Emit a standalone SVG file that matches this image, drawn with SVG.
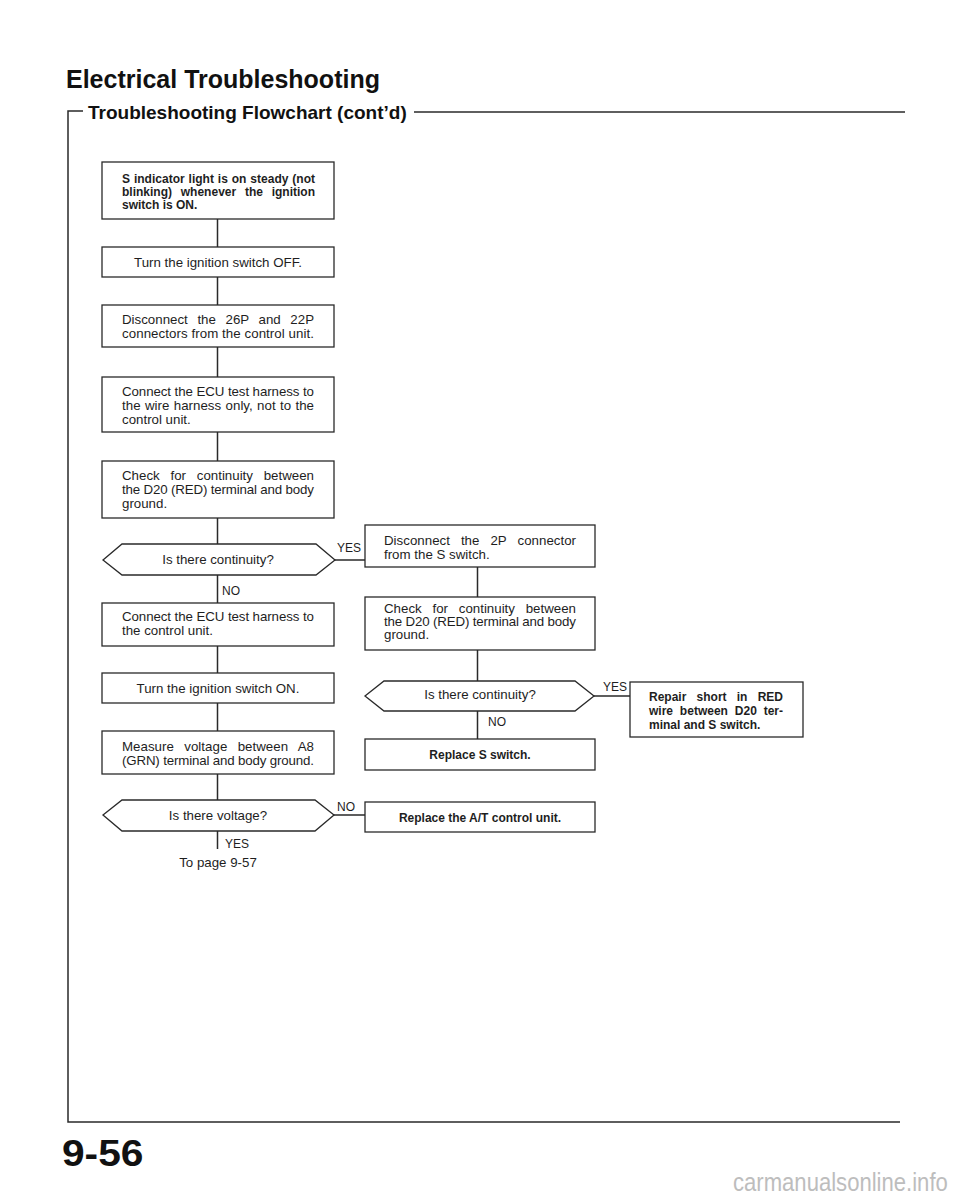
<svg xmlns="http://www.w3.org/2000/svg" width="960" height="1200" viewBox="0 0 960 1200">
<style>
.box{fill:#fff;stroke:#2a2a2a;stroke-width:1.3}
.ln{stroke:#2a2a2a;stroke-width:1.5;fill:none}
.t{font-family:"Liberation Sans",Arial,sans-serif;font-size:13.3px;fill:#1e1e1e}
.b{font-weight:bold;font-size:12px}
.c{text-anchor:middle}
.lbl{font-family:"Liberation Sans",Arial,sans-serif;font-size:12px;fill:#1e1e1e}
.hd{font-family:"Liberation Sans",Arial,sans-serif;font-weight:bold;fill:#111}
</style>
<rect width="960" height="1200" fill="#fff"/>
<g id="page-frame">
<text class="hd" x="66" y="88" font-size="25">Electrical Troubleshooting</text>
<text class="hd" x="88" y="119" font-size="19">Troubleshooting Flowchart (cont’d)</text>
<path class="ln" d="M83,111 H68 V1122 H900" stroke-width="1.8"/>
<path class="ln" d="M414,112 H905" stroke-width="1.8"/>
<text class="hd" x="0" y="1166" font-size="37" transform="translate(62,0) scale(1.1,1)">9-56</text>
<text x="0" y="1191" transform="translate(733,0) scale(0.85,1)" font-family="'Liberation Sans',Arial,sans-serif" font-size="26" fill="#bdbdbd">carmanualsonline.info</text>
</g>
<g id="connectors">
<path class="ln" d="M217.5,219V247 M217.5,277V305 M217.5,347V377 M217.5,432V461 M217.5,518V544 M217.5,575V603 M217.5,646V673 M217.5,703V731 M217.5,774V800 M217.5,831V849"/>
<path class="ln" d="M477.5,567V597 M477.5,650V681 M477.5,711V739"/>
<path class="ln" d="M335,560H365 M594,696H630 M334,815H365"/>
<text class="lbl" x="337" y="552">YES</text>
<text class="lbl" x="222" y="595">NO</text>
<text class="lbl" x="603" y="691">YES</text>
<text class="lbl" x="488" y="726">NO</text>
<text class="lbl" x="337" y="811">NO</text>
<text class="lbl" x="225" y="848">YES</text>
<text class="t c" x="218" y="866.5">To page 9-57</text>
</g>
<g id="n1">
<rect class="box" x="102" y="162" width="232" height="57"/>
<text class="t b" x="122" y="183" word-spacing="0.6" textLength="193" lengthAdjust="spacing">S indicator light is on steady (not</text>
<text class="t b" x="122" y="196" word-spacing="5.4" textLength="193" lengthAdjust="spacing">blinking) whenever the ignition</text>
<text class="t b" x="122" y="209">switch is ON.</text>
</g>
<g id="n2">
<rect class="box" x="102" y="247" width="232" height="30"/>
<text class="t c" x="218" y="267">Turn the ignition switch OFF.</text>
</g>
<g id="n3">
<rect class="box" x="102" y="305" width="232" height="42"/>
<text class="t" x="122" y="324" word-spacing="5.9" textLength="192" lengthAdjust="spacing">Disconnect the 26P and 22P</text>
<text class="t" x="122" y="338" textLength="192" lengthAdjust="spacing">connectors from the control unit.</text>
</g>
<g id="n4">
<rect class="box" x="102" y="377" width="232" height="55"/>
<text class="t" x="122" y="396" textLength="192" lengthAdjust="spacing">Connect the ECU test harness to</text>
<text class="t" x="122" y="410" word-spacing="0.6" textLength="192" lengthAdjust="spacing">the wire harness only, not to the</text>
<text class="t" x="122" y="424">control unit.</text>
</g>
<g id="n5">
<rect class="box" x="102" y="461" width="232" height="57"/>
<text class="t" x="122" y="480" word-spacing="7.1" textLength="192" lengthAdjust="spacing">Check for continuity between</text>
<text class="t" x="122" y="494" textLength="192" lengthAdjust="spacing">the D20 (RED) terminal and body</text>
<text class="t" x="122" y="508">ground.</text>
</g>
<g id="d1">
<polygon class="box" points="103,560 122,544 316,544 335,560 316,575 122,575"/>
<text class="t c" x="218" y="564">Is there continuity?</text>
</g>
<g id="n6">
<rect class="box" x="102" y="603" width="232" height="43"/>
<text class="t" x="122" y="621" textLength="192" lengthAdjust="spacing">Connect the ECU test harness to</text>
<text class="t" x="122" y="635">the control unit.</text>
</g>
<g id="n7">
<rect class="box" x="102" y="673" width="232" height="30"/>
<text class="t c" x="218" y="692.5">Turn the ignition switch ON.</text>
</g>
<g id="n8">
<rect class="box" x="102" y="731" width="232" height="43"/>
<text class="t" x="122" y="751" word-spacing="6.6" textLength="192" lengthAdjust="spacing">Measure voltage between A8</text>
<text class="t" x="122" y="765" textLength="192" lengthAdjust="spacing">(GRN) terminal and body ground.</text>
</g>
<g id="d3">
<polygon class="box" points="103,815 122,800 315,800 334,815 315,831 122,831"/>
<text class="t c" x="218" y="820">Is there voltage?</text>
</g>
<g id="nA">
<rect class="box" x="365" y="525" width="230" height="42"/>
<text class="t" x="384" y="545" word-spacing="7.3" textLength="192" lengthAdjust="spacing">Disconnect the 2P connector</text>
<text class="t" x="384" y="559">from the S switch.</text>
</g>
<g id="nB">
<rect class="box" x="365" y="597" width="230" height="53"/>
<text class="t" x="384" y="613" word-spacing="7.1" textLength="192" lengthAdjust="spacing">Check for continuity between</text>
<text class="t" x="384" y="626" textLength="192" lengthAdjust="spacing">the D20 (RED) terminal and body</text>
<text class="t" x="384" y="639">ground.</text>
</g>
<g id="d2">
<polygon class="box" points="365,696 384,681 575,681 594,696 575,711 384,711"/>
<text class="t c" x="480" y="699">Is there continuity?</text>
</g>
<g id="nRepair">
<rect class="box" x="630" y="682" width="173" height="55"/>
<text class="t b" x="649" y="701" word-spacing="6.9" textLength="134" lengthAdjust="spacing">Repair short in RED</text>
<text class="t b" x="649" y="715" word-spacing="3.5" textLength="134" lengthAdjust="spacing">wire between D20 ter-</text>
<text class="t b" x="649" y="729">minal and S switch.</text>
</g>
<g id="nReplaceS">
<rect class="box" x="365" y="739" width="230" height="31"/>
<text class="t b c" x="480" y="759">Replace S switch.</text>
</g>
<g id="nReplaceAT">
<rect class="box" x="365" y="802" width="230" height="30"/>
<text class="t b c" x="480" y="821.5">Replace the A/T control unit.</text>
</g>
</svg>
